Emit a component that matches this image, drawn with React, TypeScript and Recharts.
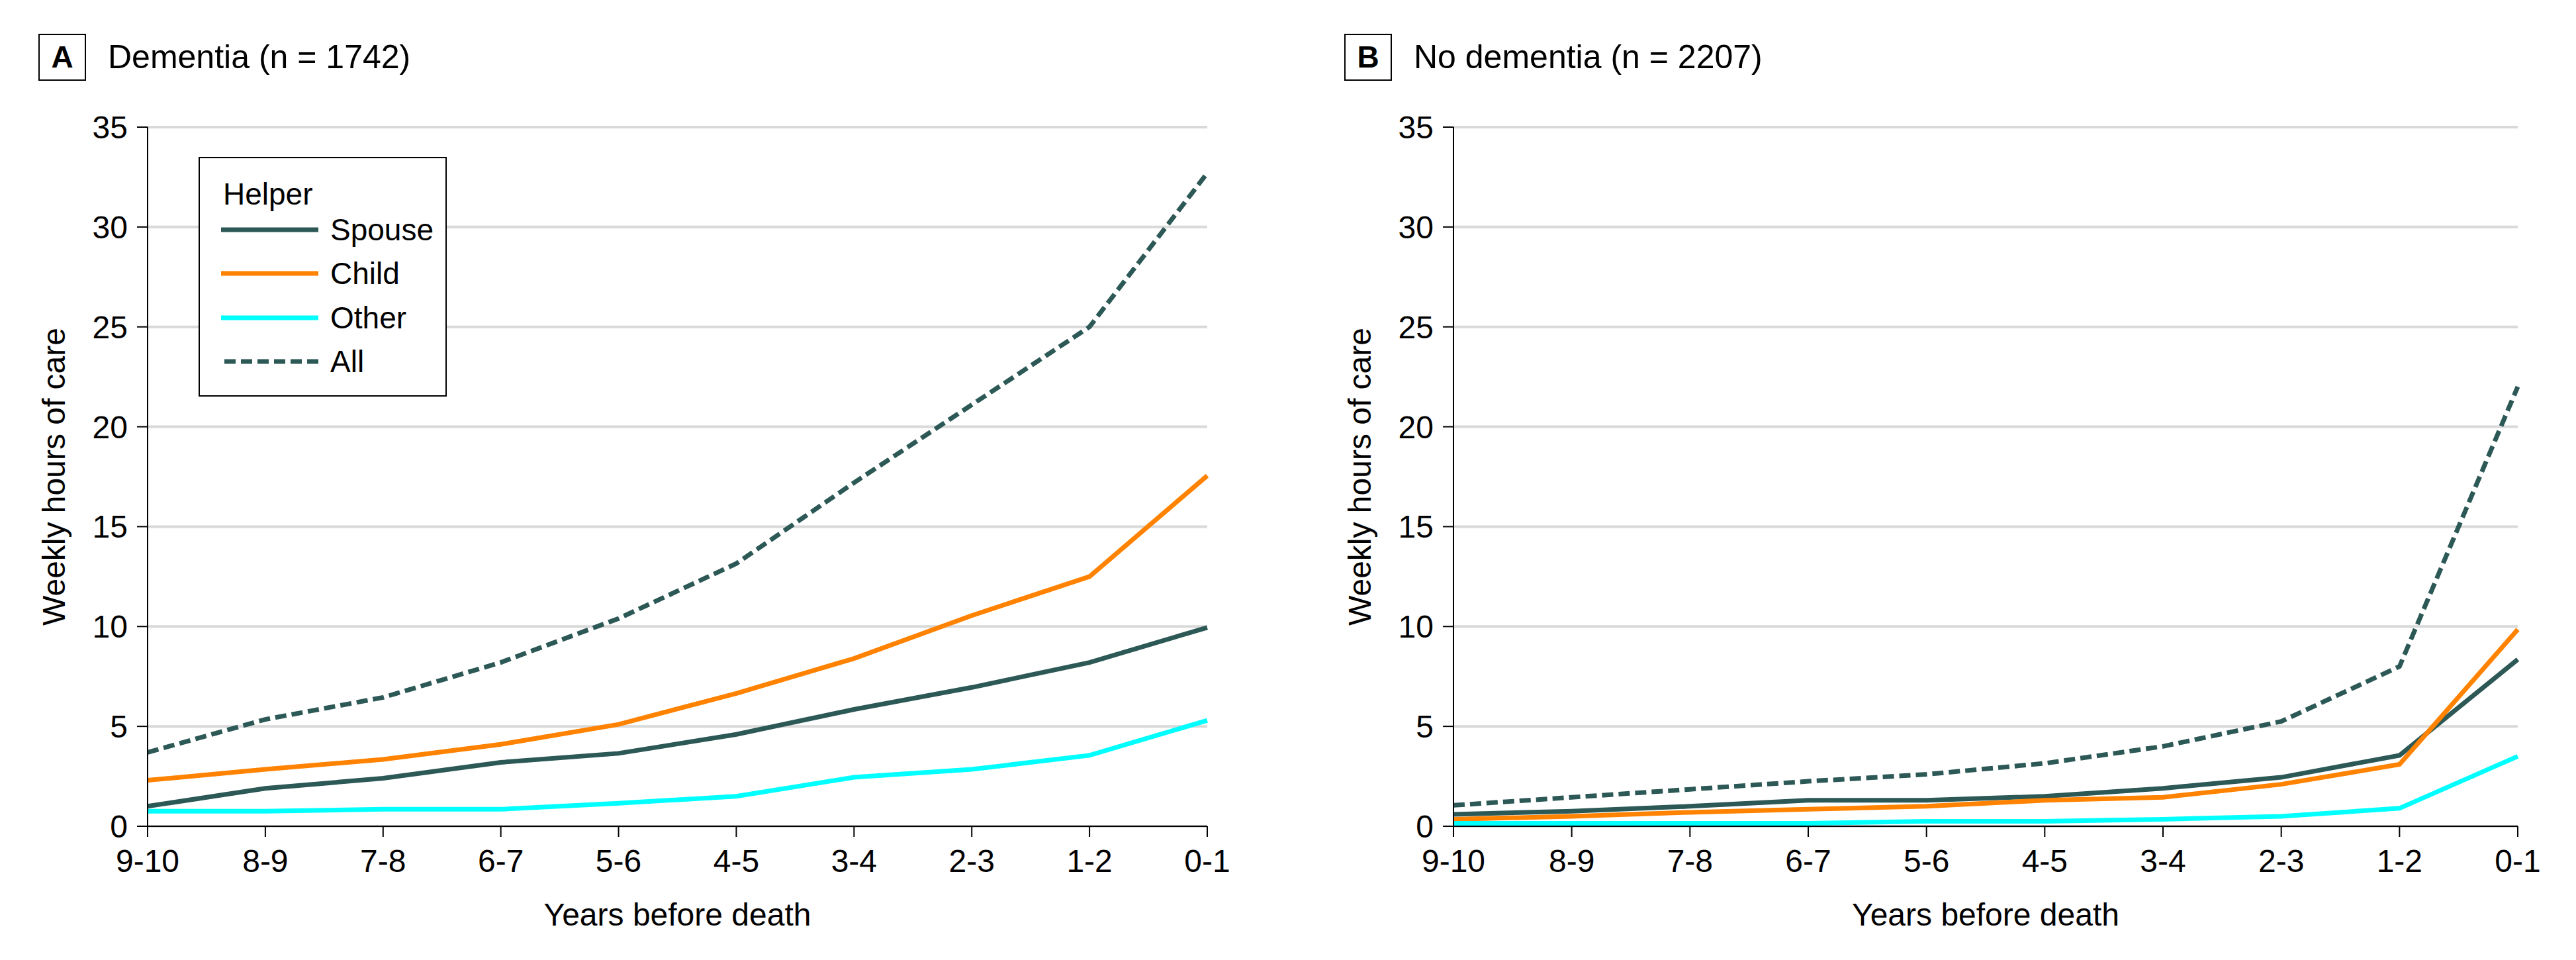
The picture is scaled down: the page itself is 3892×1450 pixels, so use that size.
import React from "react";
import { LineChart, Line, XAxis, YAxis, CartesianGrid, Legend } from "recharts";

const years = ["9-10", "8-9", "7-8", "6-7", "5-6", "4-5", "3-4", "2-3", "1-2", "0-1"];
const hourTicks = [0, 5, 10, 15, 20, 25, 30, 35];

// Panel A: dementia
const dementiaSpouse = [1.0, 1.9, 2.4, 3.2, 3.65, 4.6, 5.85, 6.95, 8.2, 9.95];
const dementiaChild = [2.3, 2.85, 3.35, 4.1, 5.1, 6.65, 8.4, 10.55, 12.5, 17.55];
const dementiaOther = [0.75, 0.75, 0.85, 0.85, 1.15, 1.5, 2.45, 2.85, 3.55, 5.3];
const dementiaAll = [3.7, 5.35, 6.45, 8.2, 10.4, 13.15, 17.2, 21.1, 25.0, 32.7];

// Panel B: no dementia
const noDementiaSpouse = [0.6, 0.75, 1.0, 1.3, 1.3, 1.5, 1.9, 2.45, 3.55, 8.35];
const noDementiaChild = [0.35, 0.5, 0.7, 0.85, 1.0, 1.3, 1.45, 2.1, 3.1, 9.85];
const noDementiaOther = [0.15, 0.15, 0.15, 0.15, 0.25, 0.25, 0.35, 0.5, 0.9, 3.5];
const noDementiaAll = [1.05, 1.45, 1.85, 2.25, 2.6, 3.15, 4.0, 5.25, 8.0, 22.0];

const helpers = [
  { key: "spouse", name: "Spouse", color: "#2c5856", dash: undefined },
  { key: "child", name: "Child", color: "#ff8200", dash: undefined },
  { key: "other", name: "Other", color: "#00ffff", dash: undefined },
  { key: "all", name: "All", color: "#2c5856", dash: "17 8" },
];

const FONT = '"Liberation Sans", Arial, sans-serif';
const H = 1450;

function HelperLegend({ payload }: any) {
  const items = helpers.map((h) => {
    const p = (payload || []).find((e: any) => e.value === h.name);
    return { ...h, color: p ? p.color : h.color };
  });
  return (
    <div
      style={{
        position: "relative",
        width: 375,
        height: 362,
        boxSizing: "border-box",
        border: "2.5px solid #000",
        background: "#fff",
        fontFamily: FONT,
        color: "#000",
      }}
    >
      <div style={{ position: "absolute", left: 35, top: 30, fontSize: 46, lineHeight: "48px" }}>Helper</div>
      {items.map((it, i) => (
        <div
          key={it.key}
          style={{
            position: "absolute",
            left: 32,
            top: 84 + i * 66.3,
            height: 48,
            display: "flex",
            alignItems: "center",
          }}
        >
          <svg width={147} height={12} style={{ display: "block" }}>
            <line x1={it.dash ? 5 : 0} y1={6} x2={147} y2={6} stroke={it.color} strokeWidth={7} strokeDasharray={it.dash} />
          </svg>
          <span style={{ marginLeft: 18, fontSize: 46, lineHeight: "48px" }}>{it.name}</span>
        </div>
      ))}
    </div>
  );
}

function Panel({ left, width, rightMargin, letter, title, spouse, child, other, all, showLegend }: any) {
  const data = years.map((y, i) => ({ year: y, spouse: spouse[i], child: child[i], other: other[i], all: all[i] }));
  const tickStyle = { fill: "#000", fontSize: 48, fontFamily: FONT };
  return (
    <div style={{ position: "absolute", left, top: 0, width, height: H }}>
      <div
        style={{
          position: "absolute",
          left: 58,
          top: 51,
          width: 72,
          height: 71,
          boxSizing: "border-box",
          border: "2.5px solid #000",
          fontFamily: FONT,
          fontWeight: "bold",
          fontSize: 46,
          lineHeight: "66px",
          textAlign: "center",
        }}
      >
        {letter}
      </div>
      <div
        style={{
          position: "absolute",
          left: 163,
          top: 56,
          fontFamily: FONT,
          fontSize: 50,
          lineHeight: "60px",
          whiteSpace: "nowrap",
        }}
      >
        {title}
      </div>
      <div style={{ position: "absolute", left: 0, top: 0 }}>
        <LineChart width={width} height={H} data={data} margin={{ top: 192, right: rightMargin, bottom: 0, left: 0 }}>
          <CartesianGrid vertical={false} stroke="#d9d9d9" strokeWidth={4} />
          <XAxis
            dataKey="year"
            height={202}
            interval={0}
            tickSize={16}
            tickMargin={19}
            axisLine={{ stroke: "#000", strokeWidth: 2 }}
            tickLine={{ stroke: "#000", strokeWidth: 2 }}
            tick={tickStyle}
            label={{ value: "Years before death", position: "insideBottom", offset: 52, fill: "#000", fontSize: 48, fontFamily: FONT }}
          />
          <YAxis
            width={223}
            domain={[0, 35]}
            ticks={hourTicks}
            tickSize={16}
            tickMargin={14}
            axisLine={{ stroke: "#000", strokeWidth: 2 }}
            tickLine={{ stroke: "#000", strokeWidth: 2 }}
            tick={tickStyle}
            label={{
              value: "Weekly hours of care",
              angle: -90,
              position: "insideLeft",
              offset: 81,
              fill: "#000",
              fontSize: 48,
              fontFamily: FONT,
              style: { textAnchor: "middle" },
            }}
          />
          {helpers.map((h) => (
            <Line
              key={h.key}
              type="linear"
              dataKey={h.key}
              name={h.name}
              stroke={h.color}
              strokeWidth={7}
              strokeDasharray={h.dash}
              dot={false}
              activeDot={false}
              isAnimationActive={false}
            />
          ))}
          {showLegend && (
            <Legend
              layout="vertical"
              align="center"
              verticalAlign="middle"
              wrapperStyle={{ left: 300, top: 237, width: 375, height: 362 }}
              content={<HelperLegend />}
            />
          )}
        </LineChart>
      </div>
    </div>
  );
}

export default function App() {
  return (
    <div style={{ position: "absolute", left: 0, top: 0, width: 3892, height: H, background: "#fff", fontFamily: FONT }}>
      <Panel
        left={0}
        width={1946}
        rightMargin={122}
        letter="A"
        title="Dementia (n = 1742)"
        spouse={dementiaSpouse}
        child={dementiaChild}
        other={dementiaOther}
        all={dementiaAll}
        showLegend
      />
      <Panel
        left={1973}
        width={1919}
        rightMargin={88}
        letter="B"
        title="No dementia (n = 2207)"
        spouse={noDementiaSpouse}
        child={noDementiaChild}
        other={noDementiaOther}
        all={noDementiaAll}
        showLegend={false}
      />
    </div>
  );
}
